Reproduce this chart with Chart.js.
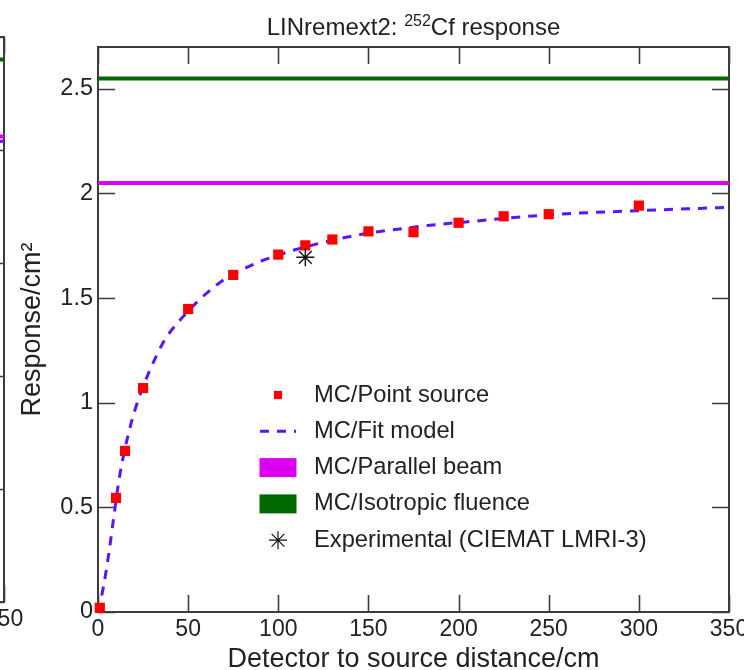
<!DOCTYPE html>
<html><head><meta charset="utf-8">
<script src="https://cdn.jsdelivr.net/npm/chart.js@4.4.1/dist/chart.umd.min.js"></script>
<style>
html,body{margin:0;padding:0;background:#fff;overflow:hidden;}
#wrap{position:relative;width:744px;height:670px;overflow:hidden;background:#fff;}
#main{position:absolute;left:0;top:0;}
#side{position:absolute;left:-360px;top:0;}
</style></head><body>
<div id="wrap">
<canvas id="main" width="744" height="670"></canvas>
<canvas id="side" width="390" height="670"></canvas>
</div>
<script>
// ---------- data (main panel) ----------
const pointDistance = [1, 10, 15, 25, 50, 75, 100, 115, 130, 150, 175, 200, 225, 250, 300];
const pointResponse = [0.02, 0.545, 0.77, 1.07, 1.448, 1.611, 1.708, 1.752, 1.78, 1.819, 1.815, 1.86, 1.891, 1.901, 1.942];
const fitDistance = [0, 3, 6, 9, 12, 18, 23, 29, 37, 44, 56, 64, 71, 81, 90, 100, 108, 132, 147, 165, 184, 204, 250, 300, 350];
const fitResponse = [0, 0.12, 0.28, 0.47, 0.65, 0.89, 1.03, 1.16, 1.30, 1.38, 1.49, 1.55, 1.595, 1.64, 1.675, 1.705, 1.728, 1.78, 1.806, 1.828, 1.848, 1.864, 1.898, 1.918, 1.934];
const parallelBeam = 2.05;
const isotropicFluence = 2.55;
const expDistance = [115];
const expResponse = [1.695];
const xRange = [0, 350];
const yRange = [0, 2.7];
const xTickStep = 50;
const yTickStep = 0.5;
const legendLabels = ['MC/Point source', 'MC/Fit model', 'MC/Parallel beam', 'MC/Isotropic fluence', 'Experimental (CIEMAT LMRI-3)'];
const titleMain = 'LINremext2: ';
const titleSup = '252';
const titleRest = 'Cf response';
const xTitle = 'Detector to source distance/cm';
const yTitle = 'Response/cm\u00B2';

// ---------- data (neighbouring panel, only its right edge is visible) ----------
const sideParallel = 2.06;
const sideIsotropic = 2.40;
const sideFitDistance = [320, 350];
const sideFitResponse = [2.03, 2.04];
const sideYRange = [0, 2.5];

// ---------- styles ----------
const FONT = "'Liberation Sans', Arial, Helvetica, sans-serif";
const INK = '#222';
const FRAME = '#3c3c3c';
const RED = '#ff0000';
const FITBLUE = '#5a14ff';
const MAGENTA = '#dc00f0';
const GREEN = '#006a00';
Chart.defaults.font.family = FONT;
Chart.defaults.color = INK;

const toXY = (xs, ys) => xs.map((x, i) => ({x: x, y: ys[i]}));
const hline = (v) => [{x: xRange[0], y: v}, {x: xRange[1], y: v}];

const frameTicks = {
  id: 'frameTicks',
  beforeDatasetsDraw(chart, args, o) {
    const {ctx, chartArea: a} = chart;
    const xs = chart.scales.x, ys = chart.scales.y;
    ctx.save();
    ctx.strokeStyle = FRAME;
    ctx.lineWidth = 1.6;
    ctx.beginPath();
    xs.ticks.forEach(t => {
      const p = Math.round(xs.getPixelForValue(t.value)) + 0.5;
      ctx.moveTo(p, a.bottom); ctx.lineTo(p, a.bottom - o.len);
      ctx.moveTo(p, a.top); ctx.lineTo(p, a.top + o.len);
    });
    ys.ticks.forEach(t => {
      const p = Math.round(ys.getPixelForValue(t.value)) + 0.5;
      ctx.moveTo(a.left, p); ctx.lineTo(a.left + o.len, p);
      ctx.moveTo(a.right, p); ctx.lineTo(a.right - o.len, p);
    });
    ctx.stroke();
    ctx.lineWidth = 2;
    ctx.strokeRect(a.left, a.top, a.right - a.left, a.bottom - a.top);
    ctx.restore();
  }
};

const titlePlugin = {
  id: 'supTitle',
  afterDraw(chart, args, o) {
    if (!o.show) return;
    const {ctx, chartArea: a} = chart;
    ctx.save();
    ctx.fillStyle = INK;
    ctx.textBaseline = 'alphabetic';
    const big = '24px ' + FONT, small = '16px ' + FONT;
    ctx.font = big; const w1 = ctx.measureText(titleMain).width; const w3 = ctx.measureText(titleRest).width;
    ctx.font = small; const w2 = ctx.measureText(titleSup).width;
    const total = w1 + w2 + w3;
    let x = (a.left + a.right) / 2 - total / 2;
    const base = a.top - 12;
    ctx.font = big; ctx.fillText(titleMain, x, base); x += w1;
    ctx.font = small; ctx.fillText(titleSup, x, base - 9); x += w2;
    ctx.font = big; ctx.fillText(titleRest, x, base);
    ctx.restore();
  }
};

const legendPlugin = {
  id: 'insideLegend',
  afterDatasetsDraw(chart, args, o) {
    if (!o.show) return;
    const {ctx, chartArea: a} = chart;
    const ds = chart.data.datasets;
    const order = [1, 2, 3, 4, 0];
    ctx.save();
    ctx.font = '23.7px ' + FONT;
    ctx.textBaseline = 'middle';
    const cx = a.left + 180, tx = a.left + 216;
    order.forEach((di, i) => {
      const d = ds[di];
      const y = a.top + 348 + i * 36.3;
      if (d.legendKind === 'point') {
        ctx.fillStyle = d.pointBackgroundColor || d.backgroundColor;
        ctx.strokeStyle = d.pointBorderColor || d.borderColor;
        ctx.lineWidth = d.legendBorder;
        Chart.helpers.drawPoint(ctx, {pointStyle: d.pointStyle, rotation: 0, radius: d.legendRadius, borderWidth: d.legendBorder}, cx, y);
      } else if (d.legendKind === 'dash') {
        ctx.strokeStyle = d.borderColor; ctx.lineWidth = d.borderWidth;
        ctx.setLineDash(d.borderDash);
        ctx.beginPath(); ctx.moveTo(cx - 18, y); ctx.lineTo(cx + 18, y); ctx.stroke();
        ctx.setLineDash([]);
      } else {
        ctx.fillStyle = d.borderColor;
        ctx.fillRect(cx - 18.5, y - 9.5, 37, 19);
      }
      ctx.fillStyle = INK;
      ctx.fillText(d.label, tx, y);
    });
    ctx.restore();
  }
};

const keepSteps = (step) => (s) => { s.ticks = s.ticks.filter(t => Math.abs(t.value / step - Math.round(t.value / step)) < 1e-6); };

new Chart(document.getElementById('main'), {
  type: 'scatter',
  data: {
    datasets: [
      {label: legendLabels[4], data: toXY(expDistance, expResponse), showLine: false, pointStyle: 'star', pointRadius: 9, pointBorderWidth: 1.4, pointBorderColor: '#111', pointBackgroundColor: '#111', backgroundColor: '#111', borderColor: '#111', legendKind: 'point', legendRadius: 9, legendBorder: 1.2, clip: false},
      {label: legendLabels[0], data: toXY(pointDistance, pointResponse), showLine: false, pointStyle: 'rect', pointRadius: 7.2, pointBorderWidth: 0, pointBackgroundColor: RED, backgroundColor: RED, borderColor: RED, legendKind: 'point', legendRadius: 5.8, legendBorder: 0, clip: false},
      {label: legendLabels[1], data: toXY(fitDistance, fitResponse), showLine: true, pointRadius: 0, borderColor: FITBLUE, borderWidth: 3, borderDash: [9, 8], cubicInterpolationMode: 'monotone', legendKind: 'dash'},
      {label: legendLabels[2], data: hline(parallelBeam), showLine: true, pointRadius: 0, borderColor: MAGENTA, borderWidth: 4, legendKind: 'box'},
      {label: legendLabels[3], data: hline(isotropicFluence), showLine: true, pointRadius: 0, borderColor: GREEN, borderWidth: 4, legendKind: 'box'}
    ]
  },
  options: {
    responsive: false, animation: false, events: [],
    layout: {padding: {left: 0, right: 15, top: 47, bottom: 0}},
    plugins: {legend: {display: false}, tooltip: {enabled: false}, title: {display: false},
      frameTicks: {len: 17}, supTitle: {show: true}, insideLegend: {show: true}},
    scales: {
      x: {type: 'linear', min: xRange[0], max: xRange[1],
        ticks: {stepSize: xTickStep, font: {size: 23}, color: INK, padding: 4, maxRotation: 0, autoSkip: false},
        grid: {display: false, drawTicks: false}, border: {display: false},
        title: {display: true, text: xTitle, font: {size: 27, lineHeight: 0.74}, color: INK, padding: {top: 0, bottom: 0}},
        afterBuildTicks: keepSteps(xTickStep),
        afterFit: (s) => { s.height = 58; s.paddingLeft = 0; s.paddingRight = 0; }},
      y: {type: 'linear', min: yRange[0], max: yRange[1],
        ticks: {stepSize: yTickStep, font: {size: 23.5}, color: INK, padding: 5, callback: (v) => String(v)},
        grid: {display: false, drawTicks: false}, border: {display: false},
        title: {display: true, text: yTitle, font: {size: 27, lineHeight: 1}, color: INK, padding: {top: 19, bottom: 0}},
        afterBuildTicks: keepSteps(yTickStep),
        afterFit: (s) => { s.width = 98; s.paddingTop = 0; s.paddingBottom = 0; }}
    }
  },
  plugins: [frameTicks, titlePlugin, legendPlugin]
});

// neighbouring panel (cut off at the left edge of the picture)
new Chart(document.getElementById('side'), {
  type: 'scatter',
  data: {
    datasets: [
      {label: 'fit', data: toXY(sideFitDistance, sideFitResponse), showLine: true, pointRadius: 0, borderColor: FITBLUE, borderWidth: 3, borderDash: [9, 8]},
      {label: 'parallel', data: hline(sideParallel), showLine: true, pointRadius: 0, borderColor: MAGENTA, borderWidth: 4},
      {label: 'iso', data: hline(sideIsotropic), showLine: true, pointRadius: 0, borderColor: GREEN, borderWidth: 4}
    ]
  },
  options: {
    responsive: false, animation: false, events: [],
    layout: {padding: {left: 0, right: 26, top: 37, bottom: 0}},
    plugins: {legend: {display: false}, tooltip: {enabled: false}, title: {display: false},
      frameTicks: {len: 17}, supTitle: {show: false}, insideLegend: {show: false}},
    scales: {
      x: {type: 'linear', min: xRange[0], max: xRange[1],
        ticks: {stepSize: xTickStep, font: {size: 23}, color: INK, padding: 4, maxRotation: 0, autoSkip: false},
        grid: {display: false, drawTicks: false}, border: {display: false},
        afterBuildTicks: keepSteps(xTickStep),
        afterFit: (s) => { s.height = 68; s.paddingLeft = 0; s.paddingRight = 0; }},
      y: {type: 'linear', min: sideYRange[0], max: sideYRange[1],
        ticks: {stepSize: yTickStep, font: {size: 23}, color: INK, padding: 5},
        grid: {display: false, drawTicks: false}, border: {display: false},
        afterFit: (s) => { s.width = 80; s.paddingTop = 0; s.paddingBottom = 0; }}
    }
  },
  plugins: [frameTicks]
});
</script>
</body></html>
